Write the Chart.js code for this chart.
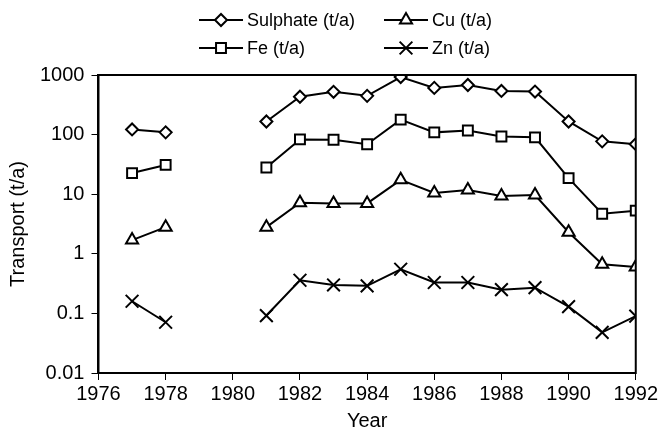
<!DOCTYPE html>
<html>
<head>
<meta charset="utf-8">
<script src="https://cdn.jsdelivr.net/npm/chart.js@4.4.1/dist/chart.umd.min.js"></script>
<style>
  html, body { margin: 0; padding: 0; background: #fff; }
  #wrap { width: 661px; height: 432px; position: relative; }
</style>
</head>
<body>
<div id="wrap"><canvas id="transportChart"></canvas></div>
<script>
// years 1979 and 1980 have no measurements (gap in the lines)
let years = [1977, 1978, 1979, 1980, 1981, 1982, 1983, 1984, 1985, 1986, 1987, 1988, 1989, 1990, 1991, 1992];
let sulphate = [122, 109, null, null, 166, 431, 522, 447, 925, 608, 680, 540, 527, 166, 77, 69];
let fe = [22.6, 31, null, null, 28, 83, 82, 69, 178, 109, 117, 93, 90, 18.6, 4.7, 5.3];
let cu = [1.7, 2.8, null, null, 2.8, 7.2, 7.0, 7.0, 17.4, 10.5, 11.8, 9.3, 9.7, 2.3, 0.67, 0.6];
let zn = [0.16, 0.071, null, null, 0.092, 0.36, 0.30, 0.29, 0.55, 0.33, 0.33, 0.25, 0.27, 0.13, 0.048, 0.09];
let yTicks = [0.01, 0.1, 1, 10, 100, 1000];
let labels = ["Sulphate (t/a)", "Fe (t/a)", "Cu (t/a)", "Zn (t/a)"];

const FONT = "'Liberation Sans', Arial, sans-serif";

function toPoints(values) {
    return years.map((yr, i) => ({ x: yr, y: values[i] }));
}

function makeSet(label, values, style, radius) {
    return {
        label: label,
        data: toPoints(values),
        borderColor: "#000",
        backgroundColor: "#fff",
        borderWidth: 2,
        pointStyle: style,
        pointRadius: radius,
        pointHoverRadius: radius,
        pointBorderWidth: 2,
        pointBackgroundColor: "#fff",
        pointBorderColor: "#000",
        spanGaps: false,
        tension: 0
    };
}

// frame around the plot area
const framePlugin = {
    id: "frame",
    afterDraw(chart) {
        const a = chart.chartArea;
        const ctx = chart.ctx;
        ctx.save();
        ctx.strokeStyle = "#000";
        ctx.lineWidth = 2;
        ctx.strokeRect(a.left, a.top, a.right - a.left, a.bottom - a.top);
        ctx.restore();
    }
};

// two-column legend like the original figure
const legendPlugin = {
    id: "twoColLegend",
    afterDraw(chart) {
        const ctx = chart.ctx;
        const spots = [
            { x: 199, y: 20 }, { x: 199, y: 48 },
            { x: 384, y: 20 }, { x: 384, y: 48 }
        ];
        ctx.save();
        chart.data.datasets.forEach((ds, i) => {
            const p = spots[i];
            ctx.strokeStyle = "#000";
            ctx.lineWidth = 2;
            ctx.beginPath();
            ctx.moveTo(p.x, p.y);
            ctx.lineTo(p.x + 44, p.y);
            ctx.stroke();
            ctx.fillStyle = "#fff";
            Chart.helpers.drawPoint(ctx, {
                pointStyle: ds.pointStyle,
                radius: ds.pointRadius,
                borderWidth: 2
            }, p.x + 22, p.y);
            ctx.fillStyle = "#000";
            ctx.font = "18px " + FONT;
            ctx.textBaseline = "middle";
            ctx.fillText(ds.label, p.x + 48, p.y + 1);
        });
        ctx.restore();
    }
};

let ctx = document.getElementById("transportChart").getContext("2d");
let chart = new Chart(ctx, {
    type: "line",
    data: {
        datasets: [
            makeSet(labels[0], sulphate, "rectRot", 6),
            makeSet(labels[1], fe, "rect", 7),
            makeSet(labels[2], cu, "triangle", 7),
            makeSet(labels[3], zn, "crossRot", 9)
        ]
    },
    options: {
        responsive: true,
        maintainAspectRatio: false,
        animation: false,
        layout: { padding: { top: 75, right: 0, left: 6, bottom: 0 } },
        plugins: {
            legend: { display: false },
            tooltip: { enabled: false }
        },
        scales: {
            x: {
                type: "linear",
                min: 1976,
                max: 1992,
                border: { display: true, color: "#000", width: 2 },
                grid: { drawOnChartArea: false, drawTicks: true, tickLength: 7, color: "#000" },
                ticks: {
                    stepSize: 2,
                    color: "#000",
                    padding: 3,
                    font: { family: FONT, size: 20, lineHeight: 1.1 },
                    callback: function(value) { return String(value); }
                },
                title: {
                    display: true,
                    text: "Year",
                    color: "#000",
                    padding: { top: 2, bottom: 0 },
                    font: { family: FONT, size: 20, lineHeight: 1.1 }
                }
            },
            y: {
                type: "logarithmic",
                min: 0.01,
                max: 1000,
                border: { display: true, color: "#000", width: 2 },
                grid: { drawOnChartArea: false, drawTicks: true, tickLength: 7, color: "#000" },
                afterBuildTicks: function(axis) {
                    axis.ticks = yTicks.map(v => ({ value: v }));
                },
                ticks: {
                    color: "#000",
                    padding: 7,
                    font: { family: FONT, size: 20 },
                    callback: function(value) { return String(value); }
                },
                title: {
                    display: true,
                    text: "Transport (t/a)",
                    color: "#000",
                    padding: { top: 0, bottom: 3 },
                    font: { family: FONT, size: 20 }
                }
            }
        }
    },
    plugins: [framePlugin, legendPlugin]
});
</script>
</body>
</html>
